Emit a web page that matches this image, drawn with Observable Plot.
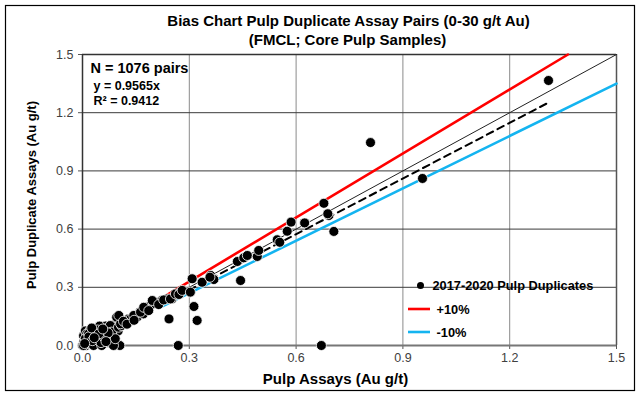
<!DOCTYPE html>
<html><head><meta charset="utf-8">
<script src="https://cdn.jsdelivr.net/npm/d3@7"></script>
<script src="https://cdn.jsdelivr.net/npm/@observablehq/plot@0.6"></script>
<style>
body{margin:0;background:#fff;}
svg{font-family:"Liberation Sans",Arial,sans-serif;}
</style></head><body><div id="chart"></div>
<script>
// Pulp assay (x) vs pulp duplicate assay (y), Au g/t
const pulpAssay = [
  0.000,0.004,0.003,0.008,0.010,0.015,0.020,0.025,0.030,0.035,0.040,0.045,0.050,0.055,0.060,0.065,0.070,0.075,0.080,0.085,
  0.090,0.095,0.100,0.105,0.012,0.022,0.038,0.048,0.058,0.068,0.078,0.088,0.003,0.031,0.054,0.087,0.008,0.017,0.036,0.045,
  0.059,0.068,0.078,0.082,0.092,0.101,0.096,0.110,0.120,0.129,0.139,0.153,0.162,0.171,0.181,0.190,0.199,0.213,0.223,0.237,
  0.251,0.107,0.102,0.135,0.144,0.163,0.172,0.186,0.196,0.214,0.228,0.247,0.261,0.275,0.271,0.280,0.303,0.308,0.336,0.360,
  0.369,0.358,0.444,0.243,0.313,0.322,0.269,0.435,0.453,0.463,0.491,0.495,0.547,0.554,0.575,0.586,0.624,0.678,0.692,0.689,
  0.706,0.671,0.809,0.955,1.309,
  0.018,0.028,0.042,0.052,0.062,0.072,0.026,0.046,0.066,0.115,0.125,0.145,0.006,0.033,0.057
];
const dupAssay = [
  0.000,0.020,0.050,0.075,0.000,0.030,0.010,0.045,0.070,0.020,0.055,0.090,0.035,0.005,0.070,0.100,0.045,0.015,0.085,0.060,
  0.000,0.110,0.075,0.000,0.060,0.080,0.010,0.100,0.050,0.030,0.060,0.095,0.000,0.000,0.000,0.000,0.035,0.060,0.069,0.026,
  0.052,0.086,0.103,0.069,0.035,0.094,0.146,0.103,0.120,0.137,0.129,0.146,0.172,0.163,0.189,0.206,0.215,0.223,0.232,0.240,
  0.240,0.112,0.155,0.137,0.155,0.172,0.197,0.180,0.232,0.211,0.235,0.240,0.266,0.275,0.263,0.284,0.275,0.344,0.326,0.361,
  0.340,0.352,0.335,0.137,0.201,0.129,0.000,0.433,0.452,0.464,0.459,0.490,0.545,0.532,0.589,0.636,0.632,0.733,0.670,0.679,
  0.588,0.000,1.046,0.861,1.366,
  0.045,0.025,0.080,0.015,0.040,0.065,0.090,0.060,0.020,0.125,0.110,0.130,0.010,0.040,0.085
];
const slope = 0.9565;
const rSquared = 0.9412;
const nPairs = 1076;
const regressionEnd = 1.31;
const upperFactor = 1.1, lowerFactor = 0.9;
const bandStart = 0.22;
const axisMax = 1.5;
const ticks = [0, 0.3, 0.6, 0.9, 1.2, 1.5];
const gridTicks = [0.3, 0.6, 0.9, 1.2];
const legendLabels = ["2017-2020 Pulp Duplicates", "+10%", "-10%"];
const titleLines = ["Bias Chart Pulp Duplicate Assay Pairs (0-30 g/t Au)", "(FMCL; Core Pulp Samples)"];
const xLabel = "Pulp Assays (Au g/t)";
const yLabel = "Pulp Duplicate Assays (Au g/t)";

const points = pulpAssay.map((x, i) => ({x, y: dupAssay[i]}));
const oneToOne = [{x: 0, y: 0}, {x: axisMax, y: axisMax}];
const upper = [{x: bandStart, y: bandStart * upperFactor}, {x: axisMax / upperFactor, y: axisMax}];
const lower = [{x: bandStart, y: bandStart * lowerFactor}, {x: axisMax, y: axisMax * lowerFactor}];
const regression = [{x: 0, y: 0}, {x: regressionEnd, y: regressionEnd * slope}];

const RED = "#ff0000", BLUE = "#14b4f0";
const bold = {fontWeight: "bold", fill: "#000", lineAnchor: "middle"};

const plot = Plot.plot({
  width: 641, height: 394,
  marginLeft: 82, marginRight: 25, marginTop: 54, marginBottom: 49,
  style: {fontFamily: "'Liberation Sans', Arial, sans-serif", fontSize: "12px", color: "#000", background: "#fff", overflow: "visible"},
  x: {domain: [0, axisMax], ticks: ticks, tickFormat: d3.format(".1f"), label: null},
  y: {domain: [0, axisMax], ticks: ticks, tickFormat: d3.format(".1f"), label: null},
  marks: [
    Plot.gridX(gridTicks, {stroke: "#8a8a8a", strokeOpacity: 1, strokeWidth: 1}),
    Plot.gridY(gridTicks, {stroke: "#3a3a3a", strokeOpacity: 1, strokeWidth: 1}),
    Plot.ruleY([axisMax], {stroke: "#333", strokeWidth: 1.5}),
    Plot.ruleX([axisMax], {stroke: "#555", strokeWidth: 1.5}),
    Plot.axisX({ticks: ticks, tickFormat: d3.format(".1f"), tickSize: 4, tickPadding: 4, fontSize: 12.5, fill: "#404040", stroke: "#555", label: null}),
    Plot.axisY({ticks: ticks, tickFormat: d3.format(".1f"), tickSize: 4, tickPadding: 5, fontSize: 12.5, fill: "#404040", stroke: "#555", label: null}),
    Plot.line(oneToOne, {x: "x", y: "y", stroke: "#222", strokeWidth: 1}),
    Plot.line(upper, {x: "x", y: "y", stroke: RED, strokeWidth: 2.6}),
    Plot.line(lower, {x: "x", y: "y", stroke: BLUE, strokeWidth: 2.6}),
    Plot.line(regression, {x: "x", y: "y", stroke: "#000", strokeWidth: 2, strokeDasharray: "7,5"}),
    Plot.ruleY([0], {stroke: "#777", strokeWidth: 2}),
    Plot.ruleX([0], {stroke: "#333", strokeWidth: 1.5}),
    Plot.dot(points, {x: "x", y: "y", r: 5, fill: "#000", stroke: "#fff", strokeWidth: 0.8}),
    Plot.text([`N = ${nPairs} pairs`], {...bold, frameAnchor: "top-left", dx: 8, dy: 14, textAnchor: "start", fontSize: 14.5}),
    Plot.text([`y = ${slope}x`], {...bold, frameAnchor: "top-left", dx: 11, dy: 31, textAnchor: "start", fontSize: 12.5}),
    Plot.text([`R² = ${rSquared}`], {...bold, frameAnchor: "top-left", dx: 11, dy: 46, textAnchor: "start", fontSize: 12.5}),
    Plot.text([titleLines[0]], {...bold, frameAnchor: "top", dx: -1, dy: -33, textAnchor: "middle", fontSize: 15}),
    Plot.text([titleLines[1]], {...bold, frameAnchor: "top", dx: -2, dy: -14, textAnchor: "middle", fontSize: 15}),
    Plot.text([xLabel], {...bold, frameAnchor: "bottom", dx: -14, dy: 34, textAnchor: "middle", fontSize: 15}),
    Plot.text([yLabel], {...bold, frameAnchor: "left", dx: -51, dy: -5, rotate: -90, textAnchor: "middle", fontSize: 13}),
    // legend
    Plot.dot([legendLabels[0]], {frameAnchor: "bottom-right", dx: -196, dy: -60, r: 3.5, fill: "#000"}),
    Plot.text([legendLabels[0]], {...bold, frameAnchor: "bottom-right", dx: -184, dy: -60, textAnchor: "start", fontSize: 12.8}),
    Plot.text([legendLabels[1]], {...bold, frameAnchor: "bottom-right", dx: -180, dy: -36, textAnchor: "start", fontSize: 12.8}),
    Plot.text([legendLabels[2]], {...bold, frameAnchor: "bottom-right", dx: -180, dy: -13, textAnchor: "start", fontSize: 12.8})
  ]
});
document.getElementById("chart").appendChild(plot);

// legend swatch lines and outer frame
const svg = d3.select(plot);
const fx = 641 - 25, fy = 394 - 49;
svg.append("line").attr("x1", fx - 208).attr("x2", fx - 186).attr("y1", fy - 36).attr("y2", fy - 36).attr("stroke", RED).attr("stroke-width", 2.6);
svg.append("line").attr("x1", fx - 208).attr("x2", fx - 186).attr("y1", fy - 13).attr("y2", fy - 13).attr("stroke", BLUE).attr("stroke-width", 2.6);
svg.append("rect").attr("x", 5.5).attr("y", 5.5).attr("width", 629).attr("height", 385).attr("fill", "none").attr("stroke", "#000").attr("stroke-width", 1.2);
</script></body></html>
